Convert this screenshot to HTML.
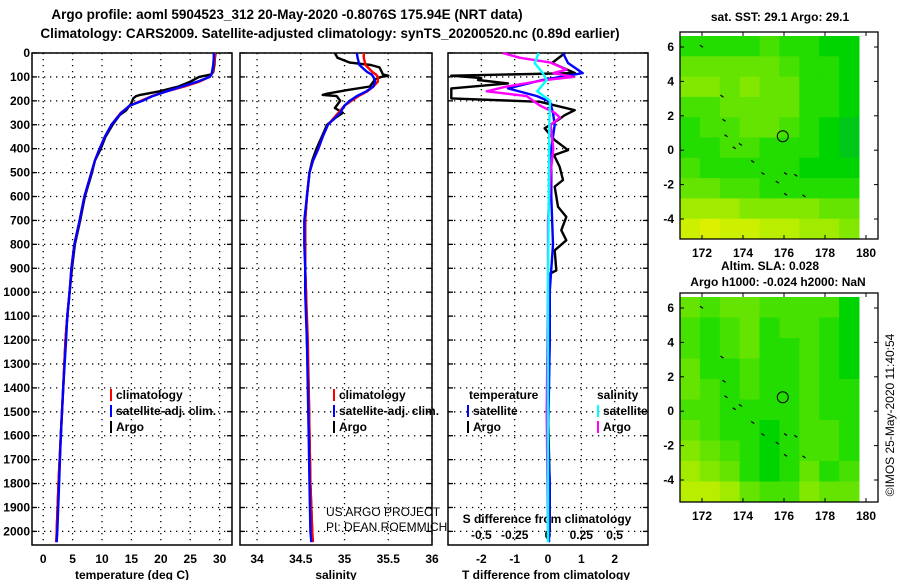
<!DOCTYPE html>
<html><head><meta charset="utf-8"><style>
html,body{margin:0;padding:0;background:#fff;}
svg text{font-family:"Liberation Sans",Arial,sans-serif;font-weight:bold;font-size:12px;fill:#000;}
</style></head><body>
<svg id="c" width="900" height="580" xmlns="http://www.w3.org/2000/svg">
<text x="287" y="19" text-anchor="middle" style="font-size:13.5px">Argo profile: aoml 5904523_312 20-May-2020 -0.8076S 175.94E (NRT data)</text>
<text x="330" y="38" text-anchor="middle" style="font-size:13.5px">Climatology: CARS2009. Satellite-adjusted climatology: synTS_20200520.nc (0.89d earlier)</text>
<text x="132" y="579" text-anchor="middle">temperature (deg C)</text>
<text x="336" y="579" text-anchor="middle">salinity</text>
<text x="546" y="579" text-anchor="middle">T difference from climatology</text>
<text x="547" y="523" text-anchor="middle">S difference from climatology</text>
<text x="326" y="516" style="font-weight:normal">US ARGO PROJECT</text>
<text x="326" y="531" style="font-weight:normal">PI: DEAN ROEMMICH</text>
<text x="780" y="21" text-anchor="middle">sat. SST: 29.1 Argo: 29.1</text>
<text x="770" y="270" text-anchor="middle">Altim. SLA: 0.028</text>
<text x="778" y="286" text-anchor="middle">Argo h1000: -0.024 h2000: NaN</text>
<text transform="translate(894,415) rotate(-90)" text-anchor="middle" style="font-weight:normal">©IMOS 25-May-2020 11:40:54</text>
</svg>
<script>
// ---------- data ----------
const depthTicks = [0,100,200,300,400,500,600,700,800,900,1000,1100,1200,1300,1400,1500,1600,1700,1800,1900,2000];
const tempTicks = [0,5,10,15,20,25,30];
const salTicks = [34,34.5,35,35.5,36];
const salTickLabels = ["34","34.5","35","35.5","36"];
const tdiffTicks = [-2,-1,0,1,2];
const sdiffTicks = [-0.5,-0.25,0,0.25,0.5];
const sdiffTickLabels = ["-0.5","-0.25","0","0.25","0.5"];

const climDepth = [0,20,50,80,90,100,120,140,160,180,200,220,250,300,350,400,450,500,600,700,800,900,1000,1100,1200,1400,1600,1800,2000,2045];
const tClim = [29.2,29.2,29.0,28.8,28.6,28.3,26.5,24.0,21.0,18.5,16.6,14.8,13.2,11.6,10.5,9.6,8.8,8.2,7.0,6.2,5.3,4.8,4.5,4.1,3.8,3.4,3.0,2.6,2.3,2.2];
const tSat = [29.0,29.0,28.9,28.7,28.6,28.3,26.2,23.6,21.0,18.6,16.9,14.7,13.3,11.6,10.5,9.6,8.8,8.2,7.0,6.2,5.3,4.8,4.5,4.1,3.9,3.4,3.0,2.7,2.4,2.3];
const sClim = [35.22,35.22,35.24,35.32,35.36,35.38,35.38,35.33,35.26,35.16,35.08,35.0,34.93,34.81,34.75,34.7,34.64,34.6,34.57,34.55,34.55,34.55,34.56,34.57,34.58,34.59,34.6,34.61,34.63,34.64];
const sSat = [35.14,35.15,35.17,35.26,35.31,35.33,35.35,35.33,35.25,35.14,35.06,35.0,34.95,34.81,34.75,34.7,34.64,34.6,34.57,34.54,34.54,34.55,34.55,34.56,34.57,34.58,34.59,34.6,34.61,34.62];

const argoTDepth = [0,20,50,80,90,100,120,140,160,175,180,190,210,240,260,300,350,400,450,500,600,700,800,900,1000,1100,1200,1400,1600,1800,2000];
const argoT = [29.3,29.2,29.1,28.9,28.5,26.5,25.0,23.0,19.8,16.5,15.8,15.3,15.0,14.1,13.0,11.8,10.6,9.8,8.8,8.3,7.1,6.3,5.4,4.9,4.5,4.1,3.8,3.4,3.0,2.6,2.3];
const argoSDepth = [0,20,40,50,60,90,95,100,110,140,155,170,175,180,200,230,250,270,300,350,400,450,500,600,700,800,900,1000,1200,1400,1600,1800,2000];
const argoS = [34.89,34.92,35.06,35.3,35.4,35.44,35.5,35.42,35.35,35.29,35.03,34.8,34.75,34.91,34.95,34.89,34.98,34.9,34.8,34.74,34.68,34.63,34.6,34.57,34.55,34.55,34.55,34.56,34.57,34.59,34.6,34.61,34.63];

const argoTdDepth = [0,42,84,95,105,113,127,148,165,190,204,239,260,280,315,364,406,427,476,531,559,643,685,741,783,825,909,923,1000,1200,1500,1800,2000];
const argoTd = [0.51,0.12,0.81,-2.9,-2.0,-2.1,-1.2,-2.9,-2.9,-2.9,-0.24,0.8,0.5,0.3,-0.1,0.2,0.6,0.18,0.35,0.45,0.2,0.3,0.55,0.4,0.55,0.2,0.25,0.05,0.05,0.05,0.0,0.05,0.05];
const satTdDepth = [0,42,84,113,148,180,204,250,300,400,600,800,1000,1200,1400,1600,1800,2045];
const satTd = [0.45,0.6,1.04,-0.17,-1.2,-0.33,0.06,0.15,0.2,0.1,0.1,0.15,0.05,0.05,0.03,0.0,0.05,0.03];
const argoSdDepth = [0,20,40,70,84,100,113,140,160,180,220,250,270,300,400,500,700,1000,1500,2000];
const argoSd = [-0.34,-0.21,0.02,0.14,0.04,0.19,-0.02,-0.31,-0.46,-0.16,-0.06,0.05,0.09,0.02,0.04,0.02,0,0,-0.01,0];
const satSdDepth = [0,42,84,113,160,200,300,1000,2000,2045];
const satSd = [-0.07,-0.1,-0.04,-0.01,-0.08,0.015,0.01,0,0,0];

const latTicks = [-4,-2,0,2,4,6];
const lonTicks = [172,174,176,178,180];
const sstGrid = [
[2,2,2,2,3,2,2,1,1],
[4,4,4,4,4,3,2,2,1],
[5,5,4,5,4,4,2,2,1],
[3,3,4,4,4,4,2,2,1],
[2,3,3,4,4,3,2,1,0],
[2,2,3,3,2,2,2,1,0],
[3,2,2,2,2,2,1,1,1],
[4,4,3,3,2,2,2,2,2],
[6,6,6,5,5,5,5,4,4],
[8,9,8,8,7,7,6,6,5]];
const slaGrid = [
[4,3,4,4,3,3,3,3,1],
[3,2,3,4,2,3,3,2,1],
[3,2,3,4,2,2,3,2,1],
[4,2,2,3,2,2,3,2,1],
[4,3,2,3,2,2,3,2,2],
[3,3,2,2,2,2,3,2,2],
[4,3,2,2,1,2,3,3,2],
[5,4,3,2,1,2,3,3,2],
[6,5,4,2,1,2,4,2,3],
[7,7,6,4,3,3,5,4,4]];
const floatLon = [175.94];
const floatLat = [0.81];
const islandLon = [171.9,172.9,173.0,173.1,173.5,173.8,174.4,174.9,175.6,176.0,176.5,176.9,176.0];
const islandLat = [6.1,3.2,1.8,0.9,0.2,0.4,-0.6,-1.3,-1.8,-1.3,-1.4,-2.6,-2.5];

// ---------- helpers ----------
const NS="http://www.w3.org/2000/svg";
const svg=document.getElementById('c');
function mk(tag,attrs){const e=document.createElementNS(NS,tag);for(const k in attrs)e.setAttribute(k,attrs[k]);svg.appendChild(e);return e;}
function txt(x,y,s,anchor,extra){const e=mk('text',{x:x,y:y,'text-anchor':anchor||'start'});if(extra)e.setAttribute('style',extra);e.textContent=s;return e;}

const TOP=53,BOT=545;
const yD=d=>TOP+d*0.2392;
const panels=[
 {name:'temperature',x0:32,x1:232,min:-1.9,max:32.1},
 {name:'salinity',x0:240,x1:432,min:33.805,max:36.0},
 {name:'tdiff',x0:448,x1:648,min:-3,max:3}];
const sx=(p,v)=>p.x0+(v-p.min)/(p.max-p.min)*(p.x1-p.x0);
const sdx=v=>548+v*133.2;

depthTicks.forEach(d=>{
 const t=txt(30,yD(d)+4,String(d),'end');
 
 
});

function frame(p,ticks,labels){
 depthTicks.forEach(d=>{
  const l=mk('line',{x1:p.x0,x2:p.x1,y1:yD(d),y2:yD(d),stroke:'#000','stroke-width':1.3,'stroke-dasharray':'1.3,4.7'});
  
  
  const a=mk('line',{x1:p.x0,x2:p.x0+5,y1:yD(d),y2:yD(d),stroke:'#000','stroke-width':1.3});
  
  
  const b=mk('line',{x1:p.x1-5,x2:p.x1,y1:yD(d),y2:yD(d),stroke:'#000','stroke-width':1.3});
  
  
 });
 ticks.forEach((v,i)=>{
  const x=sx(p,v);
  const l=mk('line',{x1:x,x2:x,y1:TOP,y2:BOT,stroke:'#000','stroke-width':1.3,'stroke-dasharray':'1.3,4.7'});
  
  
  const t=txt(x,563,labels[i],'middle');
  
  
 });
 const r=mk('rect',{x:p.x0,y:TOP,width:p.x1-p.x0,height:BOT-TOP,fill:'none',stroke:'#000','stroke-width':1.5});
 
 
}
frame(panels[0],tempTicks,tempTicks.map(String));
frame(panels[1],salTicks,salTickLabels);
frame(panels[2],tdiffTicks,tdiffTicks.map(String));
sdiffTicks.forEach((v,i)=>{
 const t=txt(sdx(v),539,sdiffTickLabels[i],'middle');
 
 
});

function line(xs,ds,color,name,xf){
 const pts=xs.map((v,i)=>xf(v).toFixed(1)+','+yD(ds[i]).toFixed(1)).join(' ');
 const e=mk('polyline',{points:pts,fill:'none',stroke:color,'stroke-width':2.4,'stroke-linejoin':'round'});
 
 
}
const P0=panels[0],P1=panels[1],P2=panels[2];
line(argoT,argoTDepth,'#000','argo-temperature-line',v=>sx(P0,v));
line(tClim,climDepth,'#f00','climatology-temperature-line',v=>sx(P0,v));
line(tSat,climDepth,'#00f','satellite-temperature-line',v=>sx(P0,v));
line(argoS,argoSDepth,'#000','argo-salinity-line',v=>sx(P1,v));
line(sClim,climDepth,'#f00','climatology-salinity-line',v=>sx(P1,v));
line(sSat,climDepth,'#00f','satellite-salinity-line',v=>sx(P1,v));
line(argoTd,argoTdDepth,'#000','argo-tdiff-line',v=>sx(P2,v));
line(satTd,satTdDepth,'#00f','satellite-tdiff-line',v=>sx(P2,v));
line(argoSd,argoSdDepth,'#f0f','argo-sdiff-line',sdx);
line(satSd,satSdDepth,'#0ff','satellite-sdiff-line',sdx);

function leg(x,y,color,label){
 const r=mk('rect',{x:x,y:y-10,width:2,height:12,fill:color});
 
 
 const t=txt(x+6,y,label);
 
 
}
[[0,'#f00','climatology'],[1,'#00f','satellite-adj. clim.'],[2,'#000','Argo']].forEach(a=>{
 leg(110,399+a[0]*16,a[1],a[2]);
 leg(333,399+a[0]*16,a[1],a[2]);
});
const h1=txt(469,399,'temperature');


const h2=txt(597,399,'salinity');


leg(467,415,'#00f','satellite');leg(467,431,'#000','Argo');
leg(597,415,'#0ff','satellite');leg(597,431,'#f0f','Argo');

// maps
const stops=[[0,200,25],[0,212,0],[35,220,0],[70,225,0],[100,228,0],[130,232,0],[160,235,0],[185,238,0],[205,240,0],[220,240,0]];
function drawMap(grid,fy0,fy1,lat6y,mapname){
 const fx0=680,fx1=878,dx1=859,dy0=fy0+4;
 const lx=lon=>702+(lon-172)*20.5;
 const ly=lat=>lat6y+(6-lat)*17.2;
 const rows=grid.length,cols=grid[0].length;
 const cw=(dx1-fx0)/cols,ch=(fy1-dy0)/rows;
 grid.forEach((row,r)=>row.forEach((v,c)=>{
  const s=stops[v];
  const e=mk('rect',{x:fx0+c*cw,y:dy0+r*ch,width:cw+0.5,height:ch+0.5,fill:`rgb(${s[0]},${s[1]},${s[2]})`});
  
  
 }));
 islandLon.forEach((lo,i)=>{
  const e=mk('line',{x1:lx(lo),y1:ly(islandLat[i]),x2:lx(lo)+3,y2:ly(islandLat[i])+2,stroke:'#000','stroke-width':1.2});
  
  
 });
 floatLon.forEach((lo,i)=>{
  const e=mk('circle',{cx:lx(lo),cy:ly(floatLat[i]),r:5.5,fill:'none',stroke:'#000','stroke-width':1});
  
  
 });
 const fr=mk('rect',{x:fx0,y:fy0,width:fx1-fx0,height:fy1-fy0,fill:'none',stroke:'#000','stroke-width':1.3});
 
 
 latTicks.forEach(l=>{
  const t=txt(674,ly(l)+4,String(l),'end');
  
  
  mk('line',{x1:fx0,x2:fx0+4,y1:ly(l),y2:ly(l),stroke:'#000'});
  mk('line',{x1:fx1-4,x2:fx1,y1:ly(l),y2:ly(l),stroke:'#000'});
 });
 lonTicks.forEach(l=>{
  const t=txt(lx(l),fy1+18,String(l),'middle');
  
  
  mk('line',{x1:lx(l),x2:lx(l),y1:fy1-4,y2:fy1,stroke:'#000'});
  mk('line',{x1:lx(l),x2:lx(l),y1:fy0,y2:fy0+4,stroke:'#000'});
 });
}
drawMap(sstGrid,32,239,47,'sst-map');
drawMap(slaGrid,293,502,308,'sla-map');
</script>
</body></html>
